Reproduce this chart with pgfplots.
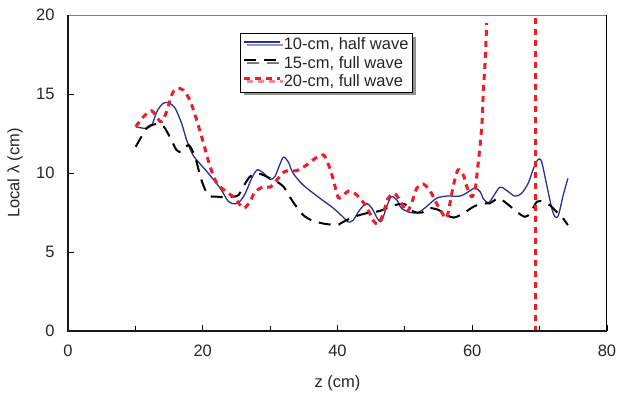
\documentclass[border=0pt]{standalone}
\usepackage{fontspec}
\setmainfont{Liberation Sans}
\usepackage{pgfplots}
\pgfplotsset{compat=1.18}
\usetikzlibrary{shadows}
\definecolor{myblue}{RGB}{40,48,150}
\definecolor{myred}{RGB}{237,30,38}
\begin{document}
\begin{tikzpicture}
\useasboundingbox (0,0) rectangle (618pt,400pt);
\begin{axis}[
  name=ax,
  at={(68pt,69pt)}, anchor=south west,
  scale only axis, width=539pt, height=316pt,
  xmin=0,xmax=80,ymin=0,ymax=20,
  xtick={0,20,...,80}, minor xtick={10,30,50,70},
  ytick={0,5,...,20},
  tick align=inside, major tick length=6pt, minor tick length=5pt,
  xtick pos=bottom, ytick pos=left,
  tick style={black, line width=0.8pt},
  axis line style={draw=none},
  /pgf/number format/assume math mode=true,
  tick label style={font=\fontsize{16.5}{19}\selectfont, text=black!85},
  xticklabel style={yshift=-10pt},
  yticklabel style={xshift=-10pt},
  legend cell align=left,
  legend style={at={(0.32,0.942)}, anchor=north west, draw=black, line width=0.6pt, fill=white,
    font=\fontsize{16.5}{19}\selectfont, text=black!85,
    drop shadow={shadow xshift=3pt, shadow yshift=-3pt, fill=black!85},
    inner sep=2pt, row sep=1pt},
  legend image code/.code={\draw[#1] (2pt,2.5pt) -- (38pt,2.5pt);},
]
\addplot[myblue, line width=1.3pt, smooth] coordinates {
(10.05,12.93) (11.4,12.83) (12.4,13.0) (13.2,13.9) (14.1,14.4) (14.9,14.45) (15.9,14.1)
(16.9,13.1) (17.6,12.1) (18.6,11.1) (20.6,10.1) (22.6,9.03) (23.8,8.2) (24.8,8.05)
(25.5,8.2) (26.3,8.7) (27.3,9.7) (28.1,10.2) (29.0,10.0) (30.0,9.6) (30.7,9.77)
(31.5,10.6) (32.0,11.0) (32.7,10.7) (33.4,10.0) (34.9,9.24) (37.4,8.4) (39.4,7.77)
(41.1,7.1) (41.6,6.9) (42.3,7.0) (43.3,7.66) (44.3,8.08) (45.1,7.77) (46.1,7.0)
(46.6,7.0) (47.3,7.87) (48.0,8.5) (48.8,8.3) (49.5,7.77) (50.8,7.5) (52.0,7.5)
(53.2,7.87) (54.7,8.4) (56.2,8.54) (58.2,8.54) (59.4,8.8) (60.4,9.05) (61.2,8.8)
(61.6,8.4) (62.4,8.12) (63.1,8.5) (64.1,9.1) (65.1,8.9) (66.3,8.54) (67.3,8.7)
(68.3,9.35) (69.1,10.3) (69.8,10.87) (70.3,10.7) (71.0,9.35) (71.8,7.77) (72.3,7.23)
(72.8,7.34) (73.5,8.6) (74.2,9.66)
};
\addlegendentry{10-cm, half wave}
\addplot[black, line width=2pt, dash pattern=on 12pt off 8pt, smooth] coordinates {
(10.05,11.66) (10.9,12.3) (11.9,12.93) (13.2,13.1) (14.1,13.0) (15.1,12.3) (16.1,11.46)
(16.9,11.35) (17.9,11.77) (18.85,11.03) (19.8,9.56) (20.8,8.6) (22.1,8.5) (23.55,8.46)
(24.5,8.5) (25.3,8.6) (26.0,9.13) (27.0,9.77) (28.0,9.98) (29.0,9.87) (30.0,9.66)
(31.0,9.45) (32.0,9.13) (32.9,8.5) (33.9,7.87) (34.9,7.34) (36.2,7.0) (37.9,6.8)
(39.9,6.7) (40.4,6.8) (41.9,7.13) (43.3,7.34) (44.8,7.5) (46.3,7.6) (47.8,7.87)
(49.3,8.04) (50.3,7.97) (51.3,7.55) (52.5,7.49) (53.7,7.77) (55.0,7.66) (56.2,7.34)
(57.3,7.18) (58.7,7.45) (60.2,7.87) (61.6,8.08) (62.6,8.08) (63.9,8.4) (65.1,8.08)
(66.6,7.55) (67.8,7.23) (68.6,7.45) (69.6,8.18) (70.5,8.18) (71.5,7.97) (72.5,7.55)
(73.3,7.23) (74.2,6.7)
};
\addlegendentry{15-cm, full wave}
\addplot[myred, line width=3pt, dash pattern=on 6pt off 5pt, smooth] coordinates {
(10.05,12.93) (11.2,13.56) (12.4,13.94) (13.4,13.4) (13.9,13.25) (14.65,13.9) (15.4,14.94)
(16.1,15.36) (17.1,15.25) (18.1,14.6) (19.1,13.35) (20.1,11.9) (21.1,10.4) (22.1,9.35)
(23.55,8.8) (24.8,8.4) (26.0,7.77) (27.0,8.18) (27.75,8.8) (29.0,9.13) (30.0,9.1)
(31.0,9.56) (32.2,10.1) (33.9,10.15) (35.4,10.5) (36.7,10.93) (37.9,11.14) (38.6,10.6)
(39.4,9.56) (40.1,8.45) (40.9,8.6) (41.6,8.85) (42.6,8.7) (43.5,8.3) (44.3,7.87)
(45.3,7.0) (46.05,6.77) (46.8,7.45) (47.5,8.4) (48.5,8.7) (49.5,8.08) (50.3,7.55)
(51.0,8.08) (51.75,9.03) (52.7,9.3) (53.7,8.9) (54.7,8.08) (55.7,7.34) (56.1,7.13)
(56.4,7.45) (57.2,9.2) (57.9,10.2) (58.7,9.85) (59.2,9.13) (59.9,8.5) (60.4,8.9)
(60.7,9.9) (61.2,11.9) (61.5,13.56) (61.65,15.25) (61.9,16.94) (62.15,19.5)
};
\addlegendentry{20-cm, full wave}
\addplot[myred, line width=3pt, dash pattern=on 6pt off 5pt, forget plot] coordinates {
(69.4,19.8) (69.4,-1)
};
\end{axis}
\draw[black!50, line width=1pt] (ax.north west) -- (ax.north east);
\draw[black, line width=1pt] (ax.north east) -- (ax.south east);
\draw[black!90, line width=1.6pt] (ax.north west) -- (ax.south west) -- (ax.south east);
\node[rotate=90, font=\fontsize{16.5}{19}\selectfont, text=black!85] at (15pt,227pt) {Local λ (cm)};
\node[font=\fontsize{16.5}{19}\selectfont, text=black!85] at (337.5pt,17pt) {z (cm)};
\end{tikzpicture}
\end{document}
